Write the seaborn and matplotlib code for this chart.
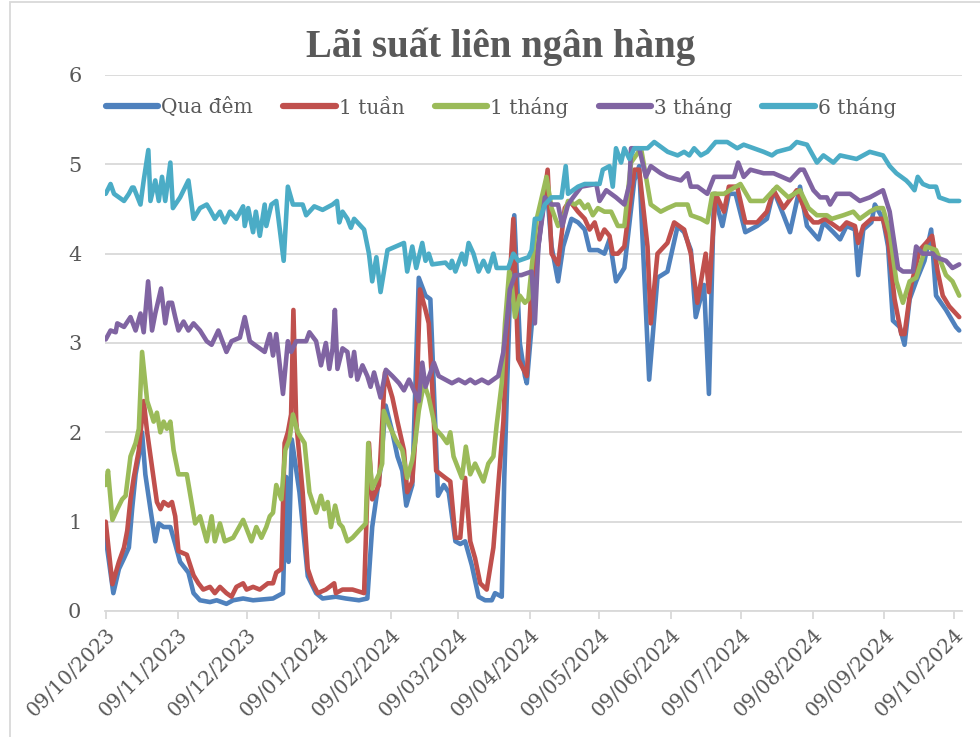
import numpy as np
import pandas as pd
import matplotlib
matplotlib.use("Agg")
import matplotlib.pyplot as plt
import seaborn as sns

START = "2023-10-09"

# ---- data (day offset from 09/10/2023, rate %) ----
qua_dem_days = [0, 3.3, 5.7, 7.9, 10, 11.4, 12.9, 14.3, 15.7, 17.1, 19.3, 21.4, 22.9, 25, 27.9, 30, 32.1, 35.7, 37.9, 40.7, 45, 47.9, 52.1, 55, 59.3,
                63.6, 72.2, 76.5, 77.9, 78.9, 80.3, 83.6, 87.2, 90.8, 93.6, 99.3, 103.6, 109.3, 112.9, 115, 118.6, 120.8,
                123.7, 125.9, 128, 129.7, 132.3, 135.1, 138, 140.1, 143.4, 145.9, 148, 150.9, 153, 155.1, 158, 160.9, 163.7, 166.6, 168, 170.9, 172, 174.4, 176.3, 178.7, 180.9,
                181.7, 186.7, 188.8, 190.2, 192.4, 195.2, 197.4, 201, 203.8, 206.7, 208.8, 212.4, 215.2, 217.4, 220.2, 223.8, 228.1, 230.2, 234.5, 238.1, 242.4,
                246.8, 249.6, 252.5, 254.6, 258.2, 260.3, 262.5, 266.1, 268.9, 271.8, 276, 281.1, 285.3, 288.2, 292.5, 295.3, 299.6,
                302.6, 307.6, 309.7, 314, 316.9, 319.7, 323.3, 324.7, 326.9, 330.4, 331.9, 335.4, 337.6, 339.7, 342.6, 344.7, 346.9, 349.7, 353.3, 356.2, 358.3, 362.6, 366.9, 368.3]
qua_dem = [0.82, 0.2, 0.47, 0.59, 0.71, 1.14, 1.53, 1.73, 2.0, 1.53, 1.14, 0.78, 0.98, 0.94, 0.94, 0.75, 0.55, 0.43, 0.2, 0.12, 0.1, 0.12, 0.08, 0.12, 0.14,
           0.12, 0.14, 0.2, 1.5, 0.55, 1.92, 1.33, 0.39, 0.2, 0.14, 0.16, 0.14, 0.12, 0.14, 0.94, 1.6, 2.3,
           2.0, 1.73, 1.57, 1.18, 1.41, 3.73, 3.53, 3.49, 1.29, 1.41, 1.33, 0.78, 0.75, 0.78, 0.51, 0.16, 0.12, 0.12, 0.2, 0.16, 1.5, 3.5, 4.43, 3.0, 2.63,
           2.55, 4.08, 4.55, 4.78, 4.08, 3.69, 4.08, 4.39, 4.35, 4.27, 4.04, 4.04, 4.0, 4.16, 3.69, 3.84, 4.82, 4.98, 2.59, 3.73, 3.8,
           4.31, 4.24, 4.04, 3.29, 3.65, 2.43, 4.67, 4.31, 4.67, 4.67, 4.24, 4.31, 4.39, 4.71, 4.43, 4.24, 4.75,
           4.31, 4.16, 4.35, 4.24, 4.16, 4.31, 4.27, 3.76, 4.27, 4.35, 4.55, 4.39, 4.08, 3.25, 3.18, 2.98, 3.49, 3.69, 3.92, 4.27, 3.53, 3.37, 3.18, 3.14]

mot_tuan_days = [0, 2.9, 5.7, 7.9, 9.3, 10.7, 12.1, 14.3, 16.4, 17.9, 20, 22.1, 23.6, 25, 27.1, 28.6, 30, 31.4, 35, 37.9, 40, 42.1, 45, 47.1, 49.3, 52.1, 54.3, 56.4, 59.3,
                 60.8, 63.6, 66.5, 70, 72.2, 73.6, 75.8, 77.2, 78.6, 80, 81, 82.2, 85, 87.2, 89.3, 91.5, 95, 98.6, 99.3, 102.2, 106.5, 111.5, 113.6, 115, 117.9, 120.5,
                 123.7, 125.9, 128.7, 130.1, 132.3, 133.7, 135.6, 138, 139.4, 140.9, 142.6, 146.6, 148.7, 150.9, 153, 155.1, 157.3, 159.4, 161.6, 164.4, 167.3, 169.4, 171.6, 174.1, 175.9, 178, 180.9,
                 181.7, 183.8, 186.7, 190.7, 192.4, 195.2, 198.1, 200.2, 203.8, 206.7, 208.8, 211, 213.1, 215.2, 217.4, 218.8, 221, 223.8, 228.1, 230.2, 233.8, 235.2, 238.1, 242.4,
                 245.3, 249.6, 252.5, 255.3, 258.9, 260.3, 263.2, 266.8, 268.9, 272.5, 276, 281.1, 285.3, 288.2, 292.5, 298.2,
                 302.6, 305.4, 307.6, 310.4, 312.6, 316.9, 319.7, 323.3, 324.7, 326.9, 330.4, 335.4, 337.6, 340.4, 343.3, 344.7, 347.6, 351.2, 354, 356.6, 359, 361.2, 364, 368.3]
mot_tuan = [1.0, 0.3, 0.55, 0.71, 0.9, 1.25, 1.49, 1.8, 2.35, 2.0, 1.61, 1.22, 1.14, 1.22, 1.18, 1.22, 1.06, 0.67, 0.63, 0.4, 0.31, 0.24, 0.27, 0.2, 0.27, 0.2, 0.16, 0.27, 0.31,
            0.24, 0.27, 0.24, 0.31, 0.31, 0.43, 0.47, 1.88, 2.0, 2.2, 3.37, 2.12, 1.33, 0.47, 0.31, 0.2, 0.24, 0.31, 0.2, 0.24, 0.24, 0.2, 1.88, 1.25, 1.41, 2.67,
            2.39, 2.12, 1.8, 1.33, 1.45, 1.96, 3.6, 3.37, 3.22, 2.51, 1.57, 1.49, 1.45, 0.82, 0.82, 1.49, 0.78, 0.59, 0.31, 0.24, 0.71, 1.41, 2.12, 3.6, 4.39, 2.82, 2.67,
            2.63, 3.69, 4.1, 4.94, 4.0, 3.88, 4.51, 4.59, 4.47, 4.39, 4.27, 4.35, 4.16, 4.27, 4.2, 4.0, 4.0, 4.08, 4.94, 4.94, 4.08, 3.22, 4.0, 4.12,
            4.35, 4.27, 4.0, 3.45, 4.0, 3.57, 4.67, 4.47, 4.75, 4.75, 4.35, 4.35, 4.47, 4.71, 4.51, 4.71,
            4.43, 4.35, 4.35, 4.39, 4.35, 4.27, 4.35, 4.31, 4.12, 4.31, 4.39, 4.39, 4.16, 3.49, 3.1, 3.1, 3.65, 4.04, 4.12, 4.2, 3.8, 3.53, 3.41, 3.29]

mot_thang_days = [0, 1, 2.9, 5, 7.1, 8.6, 10.7, 12.9, 14.3, 15.7, 17.9, 19.3, 20.7, 22.1, 23.6, 25, 26.4, 27.9, 29.3, 31.4, 35, 38.6, 40.7, 43.6, 45.7, 47.1, 49.3, 51.4, 55, 59.3,
                  62.9, 65, 67.2, 69.3, 70.8, 72.2, 73.6, 75.8, 77.5, 79.3, 80.8, 82.9, 85.8, 87.9, 90.8, 92.9, 94.3, 95.8, 97.2, 99, 100.8, 102.2, 104.3, 106.5, 109.3, 112.2, 113.3, 115, 117.9, 119.3, 120,
                  122.3, 125.1, 128, 130.1, 132.3, 133.7, 135.1, 137.3, 139.4, 142.3, 145.1, 147.3, 148.7, 150.1, 153.7, 155.4, 157.3, 159.4, 163, 165.1, 167.3, 168.7, 170.9, 172.3, 174.1, 175.1, 176.6, 178.7, 180.9,
                  182.4, 186, 190.2, 192.4, 195.2, 197.4, 199.5, 202.4, 204.5, 206.7, 208.1, 210.2, 212.4, 215.2, 218.1, 221, 223.8, 226.7, 231, 235.2, 239.5,
                  242.5, 246, 251.1, 252.5, 256.8, 259.6, 261.8, 266.8, 273.9, 278.2, 283.9, 289.6, 294.6, 299.6,
                  303.3, 306.9, 311.2, 313.3, 318.3, 322.6, 325.4, 329.7, 332.6, 335.4, 338.3, 341.2, 344, 346.9, 349.7, 354, 358.3, 362.6, 365.4, 368.3]
mot_thang = [1.41, 1.57, 1.02, 1.14, 1.25, 1.29, 1.73, 1.88, 2.04, 2.9, 2.35, 2.24, 2.12, 2.22, 2.0, 2.12, 2.04, 2.12, 1.8, 1.53, 1.53, 0.98, 1.06, 0.78, 1.06, 0.78, 0.98, 0.78, 0.82, 1.02,
             0.78, 0.94, 0.82, 0.94, 1.06, 1.1, 1.41, 1.25, 1.8, 1.92, 2.2, 2.0, 1.88, 1.33, 1.1, 1.29, 1.14, 1.22, 0.94, 1.18, 0.98, 0.94, 0.78, 0.82, 0.9, 0.98, 1.88, 1.37, 1.53, 1.65, 2.24,
             2.08, 1.92, 1.8, 1.49, 1.69, 1.92, 2.24, 2.55, 2.39, 2.04, 1.96, 1.88, 2.0, 1.73, 1.49, 1.84, 1.53, 1.65, 1.45, 1.65, 1.73, 2.08, 2.55, 3.22, 3.8, 3.69, 3.29, 3.53, 3.45,
             3.49, 4.39, 4.86, 4.51, 4.31, 4.39, 4.59, 4.55, 4.59, 4.51, 4.55, 4.43, 4.51, 4.47, 4.47, 4.31, 4.31, 5.02, 5.18, 4.55, 4.47,
             4.51, 4.55, 4.55, 4.43, 4.39, 4.35, 4.67, 4.67, 4.78, 4.59, 4.59, 4.75, 4.63, 4.71,
             4.51, 4.43, 4.43, 4.39, 4.43, 4.47, 4.39, 4.47, 4.51, 4.51, 4.24, 3.69, 3.45, 3.69, 3.73, 4.08, 4.04, 3.76, 3.69, 3.53]

ba_thang_days = [0, 2.1, 4.3, 5, 7.9, 10.7, 12.9, 15, 16.4, 18.3, 20, 21.4, 23.9, 25.7, 27.1, 28.6, 30, 31.4, 33.6, 35.7, 37.9, 40.7, 43.6, 45.7, 48.6, 52.1, 54.3, 57.9,
                 60, 62.2, 64.3, 68.6, 70.8, 72.2, 73.6, 76.5, 78.6, 80, 82.2, 86.5, 87.9, 90.8, 92.9, 95, 96.5, 97.9, 98.9, 100, 102.2, 104.3, 105.8, 107.2, 108.6, 110.8, 112.9, 114.3, 115.8, 118.6,
                 120.9, 123.7, 126.6, 128.7, 130.9, 135.1, 136.6, 138, 141.6, 143.7, 146.6, 149.4, 152.3, 155.1, 157.3, 159.4, 162.3, 165.1, 169.4, 171.6, 173, 174.4, 176.6, 179.4,
                 183.8, 185.2, 186.7, 188.1, 189.5, 192.4, 195.2, 197, 199.5, 201.7, 205.2, 211.7, 213.1, 216, 218.1, 220.2, 223.8, 226, 226.7, 230.2, 233.1, 235.2, 239.5,
                 242.5, 248.2, 251.1, 252.5, 255.4, 259.6, 262.5, 271.1, 272.9, 275.3, 278.2, 283.9, 288.2, 295.3, 299.6,
                 301.2, 305.4, 308.3, 311.2, 312.6, 315.4, 321.2, 325.4, 329.7, 335.4, 338.3, 341.9, 344, 348.3, 349.7, 352.6, 356.9, 358.3, 362.6, 365.4, 368.3]
ba_thang = [3.04, 3.14, 3.12, 3.22, 3.18, 3.29, 3.14, 3.33, 3.12, 3.69, 3.14, 3.33, 3.61, 3.22, 3.45, 3.45, 3.29, 3.14, 3.24, 3.14, 3.22, 3.14, 3.02, 2.98, 3.14, 2.9, 3.02, 3.06,
            3.29, 3.02, 2.98, 2.9, 3.1, 2.86, 3.1, 2.43, 3.02, 2.9, 3.02, 3.02, 3.12, 3.02, 2.75, 3.0, 2.71, 2.94, 3.37, 2.71, 2.94, 2.9, 2.63, 2.9, 2.59, 2.75, 2.63, 2.51, 2.67, 2.39,
            2.7, 2.63, 2.55, 2.47, 2.59, 2.35, 2.78, 2.51, 2.78, 2.63, 2.59, 2.55, 2.59, 2.55, 2.59, 2.55, 2.59, 2.55, 2.63, 2.9, 3.22, 3.6, 3.76, 3.76,
            3.8, 3.22, 4.08, 4.35, 4.63, 4.55, 4.55, 4.31, 4.55, 4.63, 4.75, 4.78, 4.59, 4.71, 4.67, 4.63, 4.55, 4.78, 5.18, 5.18, 4.86, 4.98, 4.9,
            4.86, 4.82, 4.9, 4.75, 4.75, 4.67, 4.86, 4.86, 5.02, 4.86, 4.94, 4.9, 4.9, 4.82, 4.94,
            4.94, 4.71, 4.63, 4.63, 4.55, 4.67, 4.67, 4.59, 4.63, 4.71, 4.47, 3.84, 3.8, 3.8, 4.08, 4.0, 4.0, 3.96, 3.92, 3.84, 3.88]

sau_thang_days = [0, 2.1, 3.6, 7.9, 10, 11.4, 12.1, 15, 16.4, 18.4, 19.3, 21.4, 22.9, 24.3, 25.7, 27.9, 29, 32.1, 35.7, 37.9, 40.7, 43.6, 45, 47.1, 49.3, 51.4, 53.6, 56.4, 59.3,
                  60, 61.5, 63.6, 64.8, 66.5, 68.6, 69.3, 71.5, 73.6, 76.8, 78.6, 80.8, 85, 86.5, 90, 93.6, 97.9, 99.8, 100.8, 102.2, 104.3, 105.8, 107.2, 111.5, 113.6, 115, 116.8, 118.6,
                  121.6, 128.7, 130.1, 132.3, 134, 136.6, 138, 139.4, 140.9, 146.6, 148.7, 149.4, 150.9, 153.7, 155.1, 156.6, 158.7, 160.9, 163, 165.1, 167.3, 168.7, 173.7, 175.9, 178,
                  182.4, 183.8, 185.2, 187.4, 189.5, 192.4, 196.7, 198.5, 199.5, 203.8, 206.7, 211, 213.1, 214.5, 217.4, 218.8, 220.2, 222.4, 223.8, 226, 228.1, 233.8, 236.7,
                  242.5, 246.8, 249.6, 251.8, 253.9, 256.8, 259.6, 263.2, 268.2, 272.5, 275.3, 279.6, 283.9, 287.5, 289.6, 295.4, 298.2,
                  302.6, 306.9, 309.7, 314, 316.9, 324, 326.9, 329.7, 335.4, 338.3, 341.2, 345.4, 346.9, 349, 350.4, 352.6, 355.4, 358.3, 359.7, 364, 368.3]
sau_thang = [4.67, 4.78, 4.67, 4.59, 4.67, 4.74, 4.74, 4.55, 4.82, 5.16, 4.59, 4.82, 4.59, 4.86, 4.59, 5.02, 4.51, 4.63, 4.82, 4.39, 4.51, 4.55, 4.49, 4.39, 4.47, 4.35, 4.47, 4.39, 4.53,
             4.31, 4.51, 4.24, 4.47, 4.2, 4.55, 4.31, 4.55, 4.59, 3.92, 4.75, 4.55, 4.55, 4.43, 4.53, 4.49, 4.55, 4.59, 4.35, 4.47, 4.39, 4.29, 4.39, 4.27, 4.0, 3.69, 3.96, 3.57,
             4.04, 4.12, 3.8, 4.08, 3.84, 4.12, 3.92, 4.0, 3.88, 3.9, 3.84, 3.92, 3.8, 4.0, 3.88, 4.12, 4.0, 3.8, 3.92, 3.8, 4.0, 3.84, 3.84, 4.0, 3.92,
             3.96, 4.04, 4.39, 4.39, 4.55, 4.63, 4.63, 4.98, 4.67, 4.75, 4.78, 4.78, 4.78, 4.94, 4.98, 4.75, 5.18, 5.02, 5.18, 5.06, 5.18, 5.18, 5.25,
             5.14, 5.1, 5.14, 5.1, 5.18, 5.1, 5.14, 5.25, 5.25, 5.18, 5.22, 5.18, 5.14, 5.1, 5.14, 5.18, 5.25,
             5.22, 5.02, 5.1, 5.02, 5.1, 5.06, 5.1, 5.14, 5.1, 4.98, 4.9, 4.82, 4.78, 4.71, 4.86, 4.78, 4.75, 4.75, 4.63, 4.59, 4.59]

series_names = ["Qua đêm", "1 tuần", "1 tháng", "3 tháng", "6 tháng"]
series_days = [qua_dem_days, mot_tuan_days, mot_thang_days, ba_thang_days, sau_thang_days]
series_vals = [qua_dem, mot_tuan, mot_thang, ba_thang, sau_thang]
tick_labels = ["09/10/2023", "09/11/2023", "09/12/2023", "09/01/2024", "09/02/2024", "09/03/2024",
               "09/04/2024", "09/05/2024", "09/06/2024", "09/07/2024", "09/08/2024", "09/09/2024", "09/10/2024"]
colors = ["#4F81BD", "#C0504D", "#9BBB59", "#8064A2", "#4BACC6"]

frames = []
start = pd.Timestamp(START)
for name, d, v in zip(series_names, series_days, series_vals):
    frames.append(pd.DataFrame({"date": start + pd.to_timedelta(np.array(d), unit="D"),
                                "rate": v, "series": name}))
df = pd.concat(frames, ignore_index=True)

sns.set_theme(style="white")
plt.rcParams["font.family"] = ["DejaVu Serif", "Liberation Serif"]
TXT = "#595959"

fig = plt.figure(figsize=(9.8, 7.37), dpi=100)
ax = fig.add_axes([105 / 980, 1 - 611 / 737, (962 - 105) / 980, (611 - 75) / 737])

sns.lineplot(data=df, x="date", y="rate", hue="series", hue_order=series_names,
             palette=colors, estimator=None, sort=True, linewidth=3.3, ax=ax)

ax.set_ylim(0, 6)
ax.set_yticks(range(0, 7))
ax.set_xlim(start - pd.Timedelta(days=0.3), start + pd.Timedelta(days=369.5))
tick_dates = pd.to_datetime(tick_labels, format="%d/%m/%Y")
ax.set_xticks(tick_dates)
ax.set_xticklabels(tick_labels, rotation=45, ha="right", rotation_mode="anchor")
ax.grid(axis="y", color="#D9D9D9", linewidth=1.3)
ax.set_axisbelow(True)
for s in ["left", "right", "top"]:
    ax.spines[s].set_visible(False)
ax.spines["bottom"].set_color("#D9D9D9")
ax.spines["bottom"].set_linewidth(1.3)
ax.tick_params(axis="x", which="major", length=6, width=1.3, color="#D9D9D9",
               labelsize=14.5, labelcolor=TXT, pad=4, bottom=True)
ax.tick_params(axis="y", length=0, labelsize=15, labelcolor=TXT, pad=17)
ax.set_xlabel("")
ax.set_ylabel("")

handles, labels = ax.get_legend_handles_labels()
leg = ax.legend(handles, labels, loc="center left", bbox_to_anchor=(106 / 980, 1 - 107 / 737),
                bbox_transform=fig.transFigure, ncol=5, frameon=False, borderpad=0, borderaxespad=0,
                fontsize=14.5, handlelength=2.6, columnspacing=1.5, handletextpad=0.15,
                labelcolor=TXT)
for line in leg.get_lines():
    line.set_linewidth(4.5)
    line.set_solid_capstyle("round")

fig.text(501 / 980, 1 - 47 / 737, "Lãi suất liên ngân hàng", ha="center", va="center",
         fontsize=28, fontweight="bold", color=TXT, family=["Liberation Serif", "DejaVu Serif"])

fig.patches.append(plt.Rectangle((10 / 980, -0.01), 980 / 980, 1 - 2 / 737 + 0.01,
                                 transform=fig.transFigure, fill=False,
                                 edgecolor="#D9D9D9", linewidth=1.3))

fig.savefig("out.png", dpi=100)
